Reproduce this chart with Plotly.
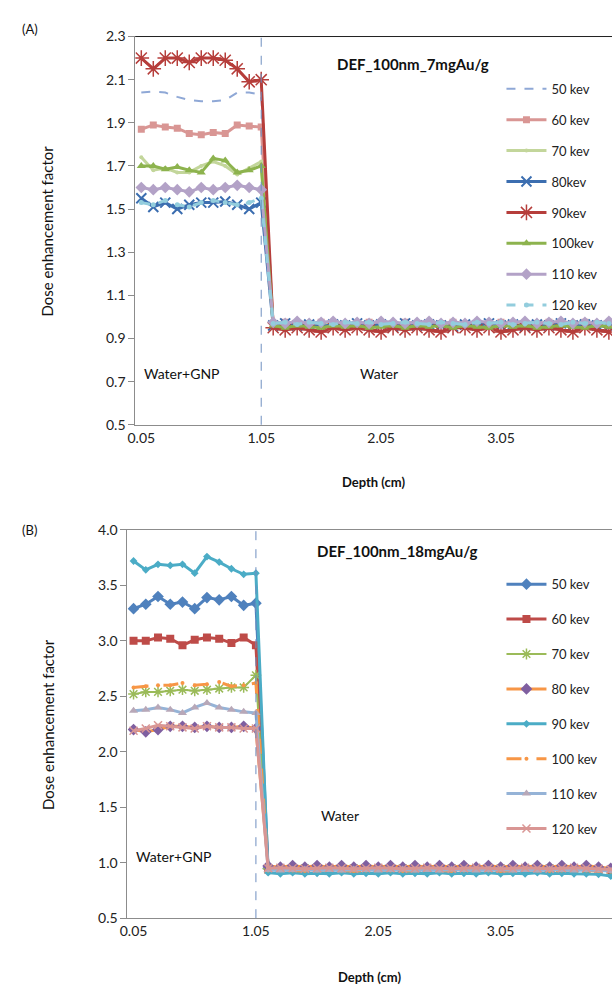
import plotly.graph_objects as go

# ---------------- data ----------------
depth = [0.05, 0.15, 0.25, 0.35, 0.45, 0.55, 0.65, 0.75, 0.85, 0.95,
         1.05, 1.15, 1.25, 1.35, 1.45, 1.55, 1.65, 1.75, 1.85, 1.95,
         2.05, 2.15, 2.25, 2.35, 2.45, 2.55, 2.65, 2.75, 2.85, 2.95,
         3.05, 3.15, 3.25, 3.35, 3.45, 3.55, 3.65, 3.75, 3.85, 3.95]
tick_vals = [0.05, 1.05, 2.05, 3.05]
boundary = 1.05

labels_a = ["50 kev", "60 kev", "70 kev", "80kev", "90kev", "100kev", "110 kev", "120 kev"]
labels_b = ["50 kev", "60 kev", "70 kev", "80 kev", "90 kev", "100 kev", "110 kev", "120 kev"]

# Panel A : DEF_100nm_7mgAu/g  (gold region 0.05-1.05, then water 1.15-3.95)
a_50 = [2.04, 2.045, 2.04, 2.02, 2.005, 2.0, 2.0, 2.005, 2.04, 2.04, 2.03,
        0.97, 0.965, 0.97, 0.96, 0.97, 0.965, 0.97, 0.975, 0.965, 0.97, 0.96, 0.97, 0.965, 0.97, 0.97,
        0.965, 0.96, 0.97, 0.975, 0.965, 0.97, 0.965, 0.97, 0.96, 0.97, 0.965, 0.97, 0.975, 0.97]
a_60 = [1.87, 1.89, 1.88, 1.875, 1.85, 1.845, 1.855, 1.85, 1.89, 1.885, 1.88,
        0.97, 0.975, 0.965, 0.97, 0.975, 0.97, 0.965, 0.97, 0.975, 0.97, 0.965, 0.975, 0.97, 0.965, 0.97,
        0.975, 0.97, 0.965, 0.97, 0.975, 0.97, 0.965, 0.97, 0.975, 0.965, 0.97, 0.975, 0.97, 0.965]
a_70 = [1.74, 1.68, 1.69, 1.67, 1.67, 1.70, 1.72, 1.70, 1.66, 1.69, 1.72,
        0.965, 0.97, 0.96, 0.965, 0.97, 0.96, 0.965, 0.97, 0.965, 0.96, 0.97, 0.965, 0.96, 0.97, 0.965,
        0.96, 0.97, 0.965, 0.96, 0.975, 0.965, 0.96, 0.97, 0.965, 0.96, 0.97, 0.965, 0.96, 0.97]
a_80 = [1.55, 1.51, 1.53, 1.50, 1.52, 1.53, 1.53, 1.535, 1.52, 1.50, 1.53,
        0.96, 0.97, 0.96, 0.965, 0.955, 0.965, 0.96, 0.97, 0.96, 0.965, 0.955, 0.97, 0.96, 0.965, 0.96,
        0.955, 0.965, 0.96, 0.97, 0.96, 0.965, 0.955, 0.965, 0.96, 0.97, 0.96, 0.965, 0.96, 0.955]
a_90 = [2.20, 2.15, 2.20, 2.20, 2.18, 2.20, 2.20, 2.19, 2.15, 2.09, 2.10,
        0.95, 0.94, 0.95, 0.94, 0.93, 0.95, 0.94, 0.95, 0.94, 0.93, 0.95, 0.94, 0.95, 0.94, 0.93,
        0.95, 0.95, 0.94, 0.95, 0.93, 0.94, 0.95, 0.94, 0.95, 0.94, 0.93, 0.95, 0.94, 0.93]
a_100 = [1.70, 1.70, 1.685, 1.695, 1.68, 1.67, 1.735, 1.725, 1.67, 1.68, 1.70,
         0.96, 0.95, 0.96, 0.955, 0.95, 0.96, 0.955, 0.96, 0.95, 0.955, 0.96, 0.95, 0.96, 0.955, 0.96,
         0.95, 0.96, 0.955, 0.95, 0.96, 0.955, 0.96, 0.95, 0.955, 0.96, 0.955, 0.95, 0.96, 0.955]
a_110 = [1.60, 1.59, 1.60, 1.59, 1.58, 1.60, 1.59, 1.60, 1.61, 1.60, 1.59,
         0.975, 0.97, 0.98, 0.97, 0.975, 0.98, 0.97, 0.975, 0.97, 0.98, 0.975, 0.97, 0.975, 0.98, 0.97,
         0.975, 0.97, 0.98, 0.975, 0.97, 0.975, 0.98, 0.97, 0.975, 0.98, 0.97, 0.975, 0.97, 0.98]
a_120 = [1.53, 1.52, 1.54, 1.52, 1.51, 1.53, 1.54, 1.53, 1.52, 1.53, 1.55,
         0.97, 0.975, 0.965, 0.975, 0.97, 0.965, 0.975, 0.97, 0.975, 0.965, 0.97, 0.975, 0.97, 0.965, 0.975,
         0.97, 0.965, 0.975, 0.97, 0.975, 0.965, 0.97, 0.975, 0.97, 0.965, 0.975, 0.97, 0.975, 0.97]

# Panel B : DEF_100nm_18mgAu/g
b_50 = [3.29, 3.33, 3.40, 3.33, 3.35, 3.29, 3.39, 3.37, 3.40, 3.32, 3.34,
        0.95, 0.93, 0.95, 0.93, 0.95, 0.93, 0.95, 0.93, 0.95, 0.93, 0.95, 0.93, 0.95, 0.93, 0.95,
        0.93, 0.95, 0.93, 0.95, 0.93, 0.95, 0.93, 0.95, 0.93, 0.95, 0.93, 0.95, 0.93, 0.94]
b_60 = [3.00, 3.00, 3.03, 3.02, 2.96, 3.01, 3.03, 3.02, 2.98, 3.03, 2.96,
        0.94, 0.945, 0.94, 0.935, 0.94, 0.945, 0.94, 0.935, 0.94, 0.945, 0.94, 0.935, 0.94, 0.945, 0.94,
        0.935, 0.94, 0.945, 0.94, 0.935, 0.94, 0.945, 0.94, 0.935, 0.94, 0.945, 0.94, 0.935, 0.93]
b_70 = [2.52, 2.54, 2.54, 2.55, 2.56, 2.55, 2.56, 2.57, 2.58, 2.58, 2.69,
        0.945, 0.94, 0.945, 0.95, 0.94, 0.945, 0.94, 0.95, 0.945, 0.94, 0.945, 0.95, 0.94, 0.945, 0.94,
        0.95, 0.945, 0.94, 0.945, 0.95, 0.94, 0.945, 0.94, 0.95, 0.945, 0.94, 0.945, 0.94, 0.935]
b_80 = [2.20, 2.18, 2.20, 2.23, 2.23, 2.22, 2.23, 2.22, 2.22, 2.23, 2.21,
        0.97, 0.96, 0.975, 0.96, 0.975, 0.96, 0.975, 0.96, 0.975, 0.96, 0.975, 0.96, 0.975, 0.96, 0.975,
        0.96, 0.975, 0.96, 0.975, 0.96, 0.975, 0.96, 0.975, 0.96, 0.975, 0.96, 0.975, 0.96, 0.95]
b_90 = [3.72, 3.64, 3.69, 3.68, 3.69, 3.61, 3.76, 3.71, 3.65, 3.60, 3.61,
        0.91, 0.90, 0.91, 0.90, 0.905, 0.90, 0.91, 0.90, 0.905, 0.90, 0.91, 0.90, 0.905, 0.90, 0.91,
        0.90, 0.905, 0.90, 0.91, 0.90, 0.905, 0.90, 0.91, 0.90, 0.905, 0.90, 0.90, 0.895, 0.88]
b_100 = [2.58, 2.59, 2.60, 2.60, 2.62, 2.60, 2.61, 2.63, 2.59, 2.60, 2.62,
         0.93, 0.935, 0.93, 0.925, 0.93, 0.935, 0.93, 0.925, 0.93, 0.935, 0.93, 0.925, 0.93, 0.935, 0.93,
         0.925, 0.93, 0.935, 0.93, 0.925, 0.93, 0.935, 0.93, 0.925, 0.93, 0.935, 0.93, 0.925, 0.92]
b_110 = [2.37, 2.38, 2.40, 2.38, 2.35, 2.40, 2.44, 2.40, 2.38, 2.36, 2.35,
         0.935, 0.93, 0.935, 0.94, 0.93, 0.935, 0.93, 0.94, 0.935, 0.93, 0.935, 0.94, 0.93, 0.935, 0.93,
         0.94, 0.935, 0.93, 0.935, 0.94, 0.93, 0.935, 0.93, 0.94, 0.935, 0.93, 0.935, 0.93, 0.925]
b_120 = [2.19, 2.21, 2.24, 2.23, 2.22, 2.21, 2.23, 2.22, 2.22, 2.21, 2.21,
         0.95, 0.955, 0.95, 0.945, 0.95, 0.955, 0.95, 0.945, 0.95, 0.955, 0.95, 0.945, 0.95, 0.955, 0.95,
         0.945, 0.95, 0.955, 0.95, 0.945, 0.95, 0.955, 0.95, 0.945, 0.95, 0.955, 0.95, 0.945, 0.94]

series_a = [a_50, a_60, a_70, a_80, a_90, a_100, a_110, a_120]
series_b = [b_50, b_60, b_70, b_80, b_90, b_100, b_110, b_120]

# ---------------- styles ----------------
style_a = [
    dict(mode="lines", line=dict(color="#8FA8D6", width=2, dash="dash")),
    dict(mode="lines+markers", line=dict(color="#D99694", width=3), marker=dict(symbol="square", size=7, color="#D99694")),
    dict(mode="lines+markers", line=dict(color="#C3D69B", width=3), marker=dict(symbol="circle", size=4, color="#C3D69B")),
    dict(mode="lines+markers", line=dict(color="#3C6EB0", width=3), marker=dict(symbol="x-thin-open", size=10, color="#3C6EB0", line=dict(width=2, color="#3C6EB0"))),
    dict(mode="lines+markers", line=dict(color="#B63E3B", width=3), marker=dict(symbol="asterisk-open", size=13, color="#B63E3B", line=dict(width=1.5, color="#B63E3B"))),
    dict(mode="lines+markers", line=dict(color="#8DB34E", width=3), marker=dict(symbol="triangle-up", size=8, color="#8DB34E")),
    dict(mode="lines+markers", line=dict(color="#B3A2C7", width=3), marker=dict(symbol="diamond", size=9, color="#B3A2C7")),
    dict(mode="lines+markers", line=dict(color="#93CDDD", width=3, dash="dash"), marker=dict(symbol="circle", size=5, color="#93CDDD")),
]
style_b = [
    dict(mode="lines+markers", line=dict(color="#4F81BD", width=3), marker=dict(symbol="diamond", size=9, color="#4F81BD")),
    dict(mode="lines+markers", line=dict(color="#BE4B48", width=3), marker=dict(symbol="square", size=8, color="#BE4B48")),
    dict(mode="lines+markers", line=dict(color="#9BBB59", width=2), marker=dict(symbol="asterisk-open", size=9, color="#9BBB59", line=dict(width=1.5, color="#9BBB59"))),
    dict(mode="lines+markers", line=dict(color="#F79646", width=3), marker=dict(symbol="diamond", size=9, color="#7F5FA0")),
    dict(mode="lines+markers", line=dict(color="#4BACC6", width=3), marker=dict(symbol="diamond", size=6, color="#4BACC6")),
    dict(mode="lines+markers", line=dict(color="#F79646", width=3, dash="longdash"), marker=dict(symbol="circle", size=4, color="#F79646")),
    dict(mode="lines+markers", line=dict(color="#95B3D7", width=3), marker=dict(symbol="triangle-up", size=8, color="#B8A8B8")),
    dict(mode="lines+markers", line=dict(color="#D99694", width=3), marker=dict(symbol="x-thin-open", size=8, color="#D99694", line=dict(width=1.5, color="#D99694"))),
]

FONT = "Lato, 'Open Sans', sans-serif"
W, H = 612, 995

fig = go.Figure()
for i, (lab, ys, st) in enumerate(zip(labels_a, series_a, style_a)):
    fig.add_trace(go.Scatter(x=depth, y=ys, name=lab, xaxis="x", yaxis="y",
                             legend="legend", legendgroup=f"a{i}", **st))
for i, (lab, ys, st) in enumerate(zip(labels_b, series_b, style_b)):
    fig.add_trace(go.Scatter(x=depth, y=ys, name=lab, xaxis="x2", yaxis="y2",
                             legend="legend2", legendgroup=f"b{i}", **st))

def px_x(p):
    return p / W

def px_y(p):
    return 1 - p / H

axis_common = dict(showgrid=False, zeroline=False, showline=True, linecolor="#8C8C8C",
                   linewidth=1, tickfont=dict(family=FONT, size=14, color="#222"))

fig.update_layout(
    width=W, height=H, margin=dict(l=0, r=0, t=0, b=0),
    paper_bgcolor="white", plot_bgcolor="white", font=dict(family=FONT),
    xaxis=dict(domain=[px_x(129), 1], range=[0.0, 3.976], tickvals=tick_vals,
               ticktext=["0.05", "1.05", "2.05", "3.05"], ticks="", mirror=True, anchor="y",
               **axis_common),
    yaxis=dict(domain=[px_y(423), px_y(28)], range=[0.5, 2.3], dtick=0.2, tick0=0.5,
               tickformat=".1f", ticks="outside", ticklen=6, tickcolor="#8C8C8C", anchor="x",
               **axis_common),
    xaxis2=dict(domain=[px_x(121), 1], range=[0.0, 3.96], tickvals=tick_vals,
                ticktext=["0.05", "1.05", "2.05", "3.05"], ticks="", mirror=True, anchor="y2",
                **axis_common),
    yaxis2=dict(domain=[px_y(925), px_y(530)], range=[0.5, 4.0], dtick=0.5, tick0=0.5,
                tickformat=".1f", ticks="outside", ticklen=6, tickcolor="#8C8C8C", anchor="x2",
                **axis_common),
    legend=dict(x=px_x(500), y=px_y(66), xanchor="left", yanchor="top", bgcolor="rgba(0,0,0,0)",
                font=dict(family=FONT, size=13, color="#222"), tracegroupgap=11, itemwidth=40),
    legend2=dict(x=px_x(500), y=px_y(570), xanchor="left", yanchor="top", bgcolor="rgba(0,0,0,0)",
                 font=dict(family=FONT, size=13, color="#222"), tracegroupgap=15, itemwidth=40),
    showlegend=True,
)

# boundary dashed lines
for xr, yr in (("x", "y domain"), ("x2", "y2 domain")):
    fig.add_shape(type="line", xref=xr, yref=yr, x0=boundary, x1=boundary, y0=0, y1=1,
                  line=dict(color="#6F8FC0", width=1, dash="dash"))
# dark top border of panel A
fig.add_shape(type="line", xref="x domain", yref="y domain", x0=0, x1=1, y0=1, y1=1,
              line=dict(color="#222", width=1))

ann = []
def text(x, y, s, size=14, bold=False, angle=0, xanchor="center"):
    ann.append(dict(x=px_x(x), y=px_y(y), xref="paper", yref="paper", text=f"<b>{s}</b>" if bold else s,
                    showarrow=False, textangle=angle, xanchor=xanchor, yanchor="middle",
                    font=dict(family=FONT, size=size, color="#111")))

text(12, 20, "(A)", 13, xanchor="left")
text(12, 530, "(B)", 13, xanchor="left")
text(410, 56, "DEF_100nm_7mgAu/g", 15, bold=True)
text(395, 551, "DEF_100nm_18mgAu/g", 15, bold=True)
text(40, 226, "Dose enhancement factor", 15, angle=-90)
text(40, 728, "Dose enhancement factor", 15, angle=-90)
text(370, 481, "Depth (cm)", 13, bold=True)
text(366, 985, "Depth (cm)", 13, bold=True)
text(176, 371, "Water+GNP", 14)
text(376, 371, "Water", 14)
text(168, 862, "Water+GNP", 14)
text(336, 821, "Water", 14)
fig.update_layout(annotations=ann)

fig.write_html("out.html")
